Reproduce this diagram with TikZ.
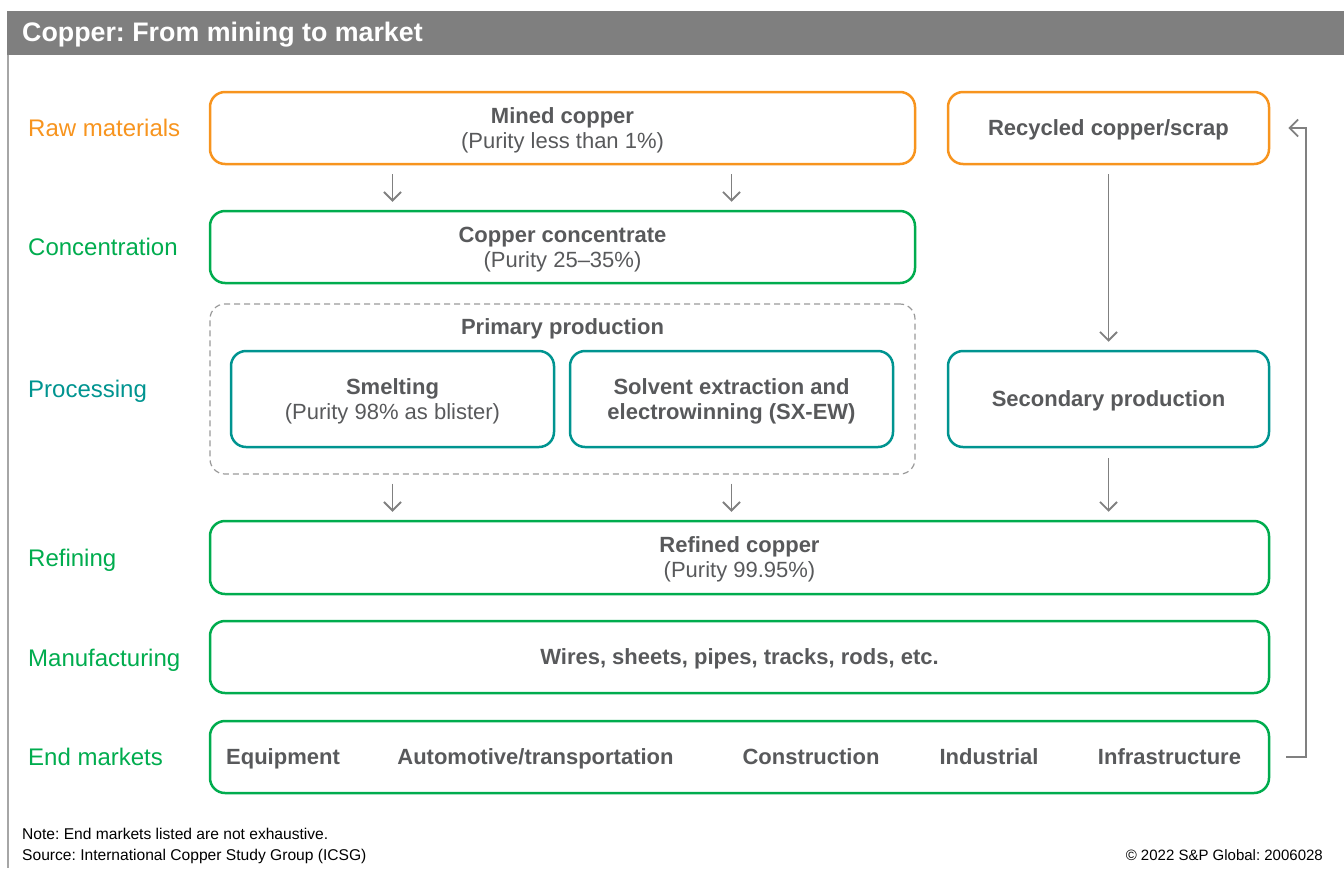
\documentclass[tikz,border=0pt]{standalone}
\usepackage{fontspec}
\setmainfont{Liberation Sans}
\usetikzlibrary{arrows.meta}
\frenchspacing
\definecolor{cuorange}{RGB}{247,148,30}
\definecolor{cugreen}{RGB}{0,172,78}
\definecolor{cuteal}{RGB}{0,148,144}
\definecolor{cutext}{RGB}{88,89,91}
\definecolor{cugray}{RGB}{128,128,128}
\definecolor{cuhead}{RGB}{127,127,127}
\tikzset{
  boxfont/.style={font=\fontsize{22}{25}\selectfont, text=cutext, align=center, text depth=0pt},
  stagebox/.style={draw, line width=2.5pt, rounded corners=15pt, boxfont, inner sep=0pt},
  rawbox/.style={stagebox, draw=cuorange},
  greenbox/.style={stagebox, draw=cugreen},
  tealbox/.style={stagebox, draw=cuteal},
  groupbox/.style={draw=cugray!80, line width=1.2pt, rounded corners=15pt, dash pattern=on 6pt off 4pt},
  rowlabel/.style={anchor=west, inner sep=0pt, text height=17pt, text depth=0pt, font=\fontsize{24}{28}\selectfont},
  itemfont/.style={inner sep=0pt, text=cutext, text height=15.5pt, text depth=0pt, font=\fontsize{22}{25}\selectfont\bfseries},
  arr/.style={draw=cugray, line width=1.8pt, -{Straight Barb[length=8.5pt,width=17pt,line width=1.8pt]}},
  foot/.style={inner sep=0pt, text height=11pt, text depth=0pt, font=\fontsize{15.6}{18}\selectfont, text=black},
}
\begin{document}
\begin{tikzpicture}[x=1pt,y=-1pt]
\useasboundingbox (0,0) rectangle (1344,868);
% header and frame
\fill[cuhead] (7,11) rectangle (1344,55);
\draw[cugray!70, line width=1.5pt] (8,55) -- (8,868);
\node[anchor=west, inner sep=0pt, text height=19pt, text depth=0pt, text=white, font=\fontsize{26.8}{30}\selectfont\bfseries] (title) at (22,32) {Copper: From mining to market};

% row labels
\node[rowlabel, text=cuorange] (lraw) at (28,128) {Raw materials};
\node[rowlabel, text=cugreen] (lconc) at (28,247) {Concentration};
\node[rowlabel, text=cuteal] (lproc) at (28,389) {Processing};
\node[rowlabel, text=cugreen] (lref) at (28,558) {Refining};
\node[rowlabel, text=cugreen] (lman) at (28,658) {Manufacturing};
\node[rowlabel, text=cugreen] (lend) at (28,757) {End markets};

% boxes
\node[rawbox, minimum width=705pt, minimum height=72pt] (mined) at (562.5,128) {\textbf{Mined copper}\\(Purity less than 1\%)};
\node[rawbox, minimum width=321pt, minimum height=72pt] (recyc) at (1108.5,128) {\textbf{Recycled copper/scrap}};
\node[greenbox, minimum width=705pt, minimum height=72pt] (conc) at (562.5,247) {\textbf{Copper concentrate}\\(Purity 25--35\%)};
\node[groupbox, minimum width=705pt, minimum height=170pt] (primary) at (562.5,389) {};
\node[itemfont] (primlabel) at (562.5,327) {Primary production};
\node[tealbox, minimum width=323pt, minimum height=96pt] (smelt) at (392.5,399) {\textbf{Smelting}\\(Purity 98\% as blister)};
\node[tealbox, minimum width=323pt, minimum height=96pt, font=\fontsize{22}{25}\selectfont\bfseries] (sxew) at (731.5,399) {Solvent extraction and\\electrowinning (SX-EW)};
\node[tealbox, minimum width=321pt, minimum height=96pt] (second) at (1108.5,399) {\textbf{Secondary production}};
\node[greenbox, minimum width=1059pt, minimum height=73pt] (refined) at (739.5,557.5) {\textbf{Refined copper}\\(Purity 99.95\%)};
\node[greenbox, minimum width=1059pt, minimum height=72pt] (wires) at (739.5,657) {\textbf{Wires, sheets, pipes, tracks, rods, etc.}};
\node[greenbox, minimum width=1059pt, minimum height=72pt] (endm) at (739.5,757) {};

% end market items
\node[itemfont] (m1) at (283,757) {Equipment};
\node[itemfont] (m2) at (535.5,757) {Automotive/transportation};
\node[itemfont] (m3) at (811,757) {Construction};
\node[itemfont] (m4) at (989,757) {Industrial};
\node[itemfont] (m5) at (1169.5,757) {Infrastructure};

% arrows
\draw[arr, shorten <=9pt, shorten >=8pt] (smelt.north |- mined.south) -- (smelt.north |- conc.north);
\draw[arr, shorten <=9pt, shorten >=8pt] (sxew.north |- mined.south) -- (sxew.north |- conc.north);
\draw[arr, shorten <=9pt, shorten >=8pt] (smelt.south |- primary.south) -- (smelt.south |- refined.north);
\draw[arr, shorten <=9pt, shorten >=8pt] (sxew.south |- primary.south) -- (sxew.south |- refined.north);
\draw[arr, shorten <=9pt, shorten >=8pt] (recyc.south) -- (second.north);
\draw[arr, shorten <=10pt, shorten >=8pt] (second.south) -- (second.south |- refined.north);
\draw[arr] ([xshift=16pt]endm.east) -- ++(20,0) |- ([xshift=18pt]recyc.east);

% footer
\node[foot, anchor=west] (note) at (22,834) {Note: End markets listed are not exhaustive.};
\node[foot, anchor=west] (source) at (22,855) {Source: International Copper Study Group (ICSG)};
\node[foot, anchor=east, font=\fontsize{15}{18}\selectfont] (copy) at (1323,855) {© 2022 S\&P Global: 2006028};
\end{tikzpicture}
\end{document}
